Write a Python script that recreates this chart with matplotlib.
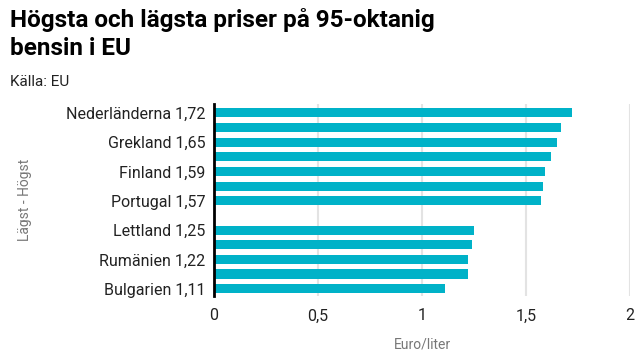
import matplotlib
matplotlib.use("Agg")
import matplotlib.pyplot as plt

# data, highest at top
countries = ["Nederländerna", "", "Grekland", "", "Finland", "", "Portugal",
             None,
             "Lettland", "", "Rumänien", "", "Bulgarien"]
prices = [1.72, 1.67, 1.65, 1.62, 1.59, 1.58, 1.57,
          None,
          1.25, 1.24, 1.22, 1.22, 1.11]
xticks = [0, 0.5, 1, 1.5, 2]
xticklabels = ["0", "0,5", "1", "1,5", "2"]

plt.rcParams["font.family"] = ["Roboto", "DejaVu Sans"]

fig = plt.figure(figsize=(6.4, 3.6), dpi=100)
ax = fig.add_axes([214 / 640, 1 - 296 / 360, (630 - 214) / 640, (296 - 104) / 360])

ypos = []
vals = []
labels = []
for i, (c, p) in enumerate(zip(countries, prices)):
    if p is None:
        continue
    ypos.append(i)
    vals.append(p)
    labels.append(f"{c} {p:.2f}".replace(".", ",") if c else "")

ax.barh(ypos, vals, height=0.62, color="#00b2c8", zorder=3)
ax.set_ylim(len(countries) - 0.5, -0.6)
ax.set_xlim(0, 2)

ax.set_yticks([y for y, l in zip(ypos, labels) if l])
ax.set_yticklabels([l for l in labels if l], fontsize=11.5, color="#222222")
ax.set_xticks(xticks)
ax.set_xticklabels(xticklabels, fontsize=11.5, color="#222222")
ax.tick_params(length=0, pad=6)
ax.tick_params(axis="x", pad=9)

ax.grid(axis="x", color="#e3e3e3", linewidth=1.5, zorder=0)
for s in ["top", "right", "bottom"]:
    ax.spines[s].set_visible(False)
ax.spines["left"].set_linewidth(2)
ax.spines["left"].set_color("black")
ax.spines["left"].set_zorder(4)

ax.set_xlabel("Euro/liter", fontsize=10, color="#777777", labelpad=10)
fig.text(25 / 640, 1 - 200 / 360, "Lägst - Högst", rotation=90, fontsize=10,
         color="#777777", ha="center", va="center")

fig.text(10 / 640, 1 - 8 / 360, "Högsta och lägsta priser på 95-oktanig\nbensin i EU",
         fontsize=17.5, fontweight="bold", color="black", ha="left", va="top",
         linespacing=1.3)
fig.text(10 / 640, 1 - 82 / 360, "Källa: EU", fontsize=11, color="#222222",
         ha="left", va="center")

fig.savefig("out.png", dpi=100)
